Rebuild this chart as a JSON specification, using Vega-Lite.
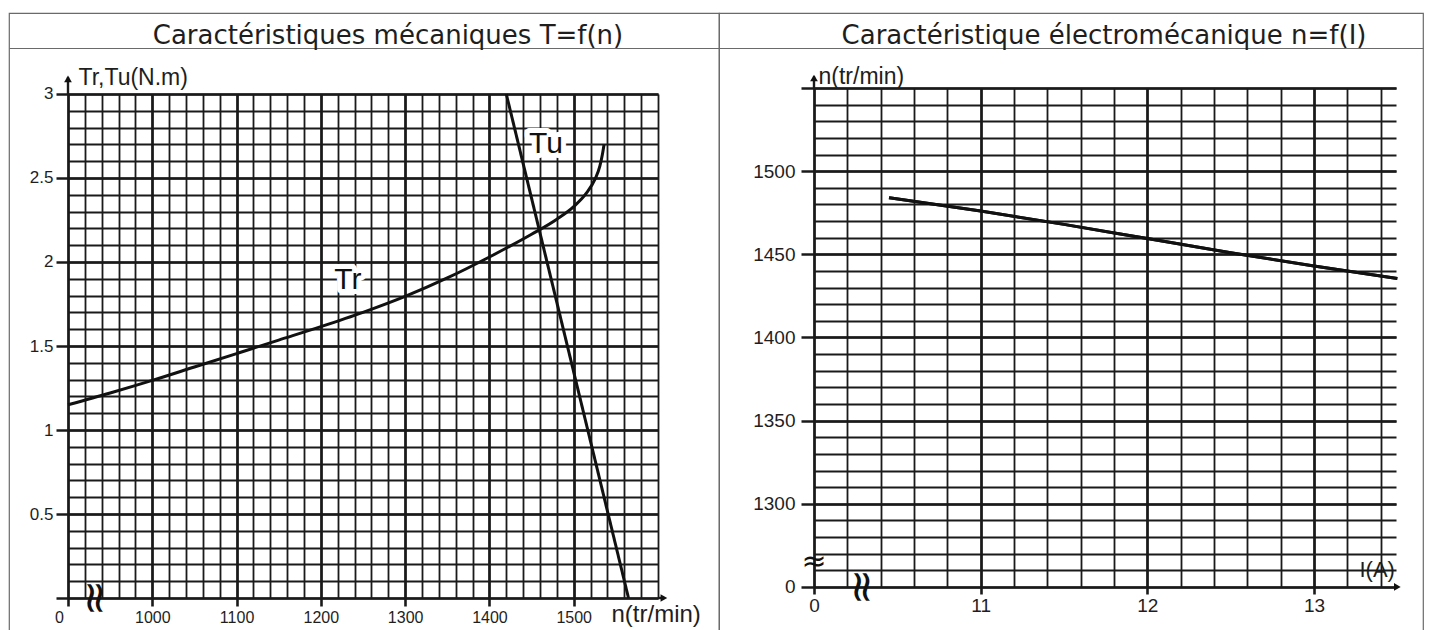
{
  "$schema": "https://vega.github.io/schema/vega-lite/v6.json",
  "background": "white",
  "padding": {"left": 8, "top": 12, "right": 0, "bottom": 0},
  "autosize": {"type": "pad"},
  "bounds": "flush",
  "spacing": 0,
  "config": {
    "view": {"stroke": "#6a6a6a", "strokeWidth": 1.2},
    "font": "Liberation Sans",
    "axis": {"labelColor": "#1e1e1e", "titleColor": "#1e1e1e", "labelFont": "Liberation Sans", "titleFont": "Liberation Sans", "titleFontWeight": "normal"}
  },
  "datasets": {
    "tr": [
      {"n": 900, "T": 1.15}, {"n": 950, "T": 1.22}, {"n": 1000, "T": 1.295}, {"n": 1050, "T": 1.375},
      {"n": 1100, "T": 1.455}, {"n": 1150, "T": 1.535}, {"n": 1200, "T": 1.615}, {"n": 1250, "T": 1.70},
      {"n": 1300, "T": 1.795}, {"n": 1350, "T": 1.905}, {"n": 1400, "T": 2.03}, {"n": 1450, "T": 2.165},
      {"n": 1480, "T": 2.255}, {"n": 1500, "T": 2.33}, {"n": 1515, "T": 2.41}, {"n": 1525, "T": 2.49},
      {"n": 1531, "T": 2.57}, {"n": 1534, "T": 2.64}, {"n": 1536, "T": 2.70}
    ],
    "tu": [{"n": 1420, "T": 3}, {"n": 1565, "T": 0}],
    "lblL": [{"n": 1232, "T": 1.89, "txt": "Tr"}, {"n": 1467, "T": 2.70, "txt": "Tu"}],
    "ruleL": [{"n": 900, "n2": 900, "T": 3, "T2": 3.1}, {"n": 1600, "n2": 1607, "T": 0, "T2": 0}],
    "headL": [{"n": 900, "T": 3.09, "dir": "up"}, {"n": 1607, "T": 0, "dir": "right"}],
    "brkL": [{"n": 931, "T": 0, "sym": "≈"}],
    "nI": [
      {"I": 10.45, "n": 1484}, {"I": 11, "n": 1476}, {"I": 11.5, "n": 1468}, {"I": 12, "n": 1459.5},
      {"I": 12.5, "n": 1451}, {"I": 13, "n": 1443}, {"I": 13.5, "n": 1435.5}
    ],
    "ruleR": [{"I": 10, "I2": 10, "n": 1550, "n2": 1557}],
    "headR": [{"I": 10, "n": 1556, "dir": "up"}, {"I": 13.5, "n": 1250, "dir": "right"}],
    "brkRx": [{"I": 10.28, "n": 1250, "sym": "≈"}],
    "brkRy": [{"I": 10, "n": 1265, "sym": "≈"}]
  },
  "hconcat": [
    {
      "width": 710,
      "height": 620,
      "title": {"text": "Caractéristiques mécaniques T=f(n)", "frame": "group", "anchor": "middle", "offset": -49, "baseline": "middle", "dx": 24, "font": "DejaVu Sans", "fontSize": 26, "fontWeight": "normal", "color": "#1e1e1e"},
      "resolve": {"axis": {"x": "independent", "y": "independent"}},
      "layer": [
        {
          "data": {"name": "tr"},
          "mark": {"type": "line", "color": "#111111", "strokeWidth": 3, "interpolate": "monotone"},
          "encoding": {
            "x": {"field": "n", "type": "quantitative", "scale": {"domain": [830, 1672.37], "nice": false, "zero": false},
              "axis": {"orient": "bottom", "offset": -35, "values": [900,920,940,960,980,1000,1020,1040,1060,1080,1100,1120,1140,1160,1180,1200,1220,1240,1260,1280,1300,1320,1340,1360,1380,1400,1420,1440,1460,1480,1500,1520,1540,1560,1580,1600], "tickSize": -504, "tickWidth": 1.8, "tickColor": "#1a1a1a", "labels": false, "domain": false, "grid": false, "title": null}},
            "y": {"field": "T", "type": "quantitative", "scale": {"domain": [-0.20833, 3.48214], "nice": false, "zero": false},
              "axis": {"orient": "left", "offset": -59, "values": [0,0.1,0.2,0.3,0.4,0.5,0.6,0.7,0.8,0.9,1,1.1,1.2,1.3,1.4,1.5,1.6,1.7,1.8,1.9,2,2.1,2.2,2.3,2.4,2.5,2.6,2.7,2.8,2.9,3], "tickSize": -590, "tickWidth": 1.8, "tickColor": "#1a1a1a", "labels": false, "domain": false, "grid": false, "title": null}}
          }
        },
        {
          "data": {"name": "tu"},
          "mark": {"type": "line", "color": "#111111", "strokeWidth": 3},
          "encoding": {
            "x": {"field": "n", "type": "quantitative", "scale": {"domain": [830, 1672.37], "nice": false, "zero": false},
              "axis": {"orient": "bottom", "offset": -27, "values": [900,1000,1100,1200,1300,1400,1500], "tickSize": -512, "tickWidth": 2.6, "tickColor": "#1a1a1a", "labels": false, "domain": false, "grid": false, "title": null}},
            "y": {"field": "T", "type": "quantitative", "scale": {"domain": [-0.20833, 3.48214], "nice": false, "zero": false},
              "axis": {"orient": "left", "offset": -47, "values": [0,0.5,1,1.5,2,2.5,3], "tickSize": -602, "tickWidth": 2.6, "tickColor": "#1a1a1a", "labels": false, "domain": false, "grid": false, "title": null}}
          }
        },
        {
          "data": {"name": "lblL"},
          "mark": {"type": "text", "font": "Liberation Sans", "fontSize": 30, "stroke": "white", "strokeWidth": 10, "strokeJoin": "round", "fill": "white", "align": "center", "baseline": "middle"},
          "encoding": {
            "x": {"field": "n", "type": "quantitative", "scale": {"domain": [830, 1672.37], "nice": false, "zero": false},
              "axis": {"orient": "bottom", "offset": -27, "values": [900,1000,1100,1200,1300,1400,1500], "ticks": false, "domain": false, "grid": false, "labelExpr": "datum.value == 900 ? '0' : format(datum.value, 'd')", "labelOffset": {"condition": {"test": "datum.value == 900", "value": -9}, "value": 0}, "labelPadding": 3, "labelFontSize": 16,
                "title": "n(tr/min)", "titleX": 602, "titleY": 8, "titleAlign": "left", "titleBaseline": "middle", "titleAngle": 0, "titleFontSize": 24}},
            "y": {"field": "T", "type": "quantitative", "scale": {"domain": [-0.20833, 3.48214], "nice": false, "zero": false},
              "axis": {"orient": "left", "offset": -47, "values": [0.5,1,1.5,2,2.5,3], "ticks": false, "domain": false, "grid": false, "labelExpr": "format(datum.value, '~g')", "labelPadding": 3, "labelFontSize": 17,
                "title": "Tr,Tu(N.m)", "titleX": 22, "titleY": 64, "titleAlign": "left", "titleBaseline": "middle", "titleAngle": 0, "titleFontSize": 23}},
            "text": {"field": "txt", "type": "nominal"}
          }
        },
        {
          "data": {"name": "lblL"},
          "mark": {"type": "text", "font": "Liberation Sans", "fontSize": 30, "fill": "#111111", "align": "center", "baseline": "middle"},
          "encoding": {
            "x": {"field": "n", "type": "quantitative", "scale": {"domain": [830, 1672.37], "nice": false, "zero": false},
              "axis": {"orient": "top", "offset": -35, "domain": true, "domainColor": "#6a6a6a", "domainWidth": 1.2, "ticks": false, "labels": false, "grid": false, "title": null}},
            "y": {"field": "T", "type": "quantitative", "scale": {"domain": [-0.20833, 3.48214], "nice": false, "zero": false}, "axis": null},
            "text": {"field": "txt", "type": "nominal"}
          }
        },
        {
          "data": {"name": "ruleL"},
          "mark": {"type": "rule", "color": "#1a1a1a", "strokeWidth": 2.4},
          "encoding": {
            "x": {"field": "n", "type": "quantitative", "scale": {"domain": [830, 1672.37], "nice": false, "zero": false}, "axis": null},
            "x2": {"field": "n2"},
            "y": {"field": "T", "type": "quantitative", "scale": {"domain": [-0.20833, 3.48214], "nice": false, "zero": false}, "axis": null},
            "y2": {"field": "T2"}
          }
        },
        {
          "data": {"name": "headL"},
          "mark": {"type": "point", "filled": true, "color": "#111111", "size": 60, "opacity": 1},
          "encoding": {
            "x": {"field": "n", "type": "quantitative", "scale": {"domain": [830, 1672.37], "nice": false, "zero": false}, "axis": null},
            "y": {"field": "T", "type": "quantitative", "scale": {"domain": [-0.20833, 3.48214], "nice": false, "zero": false}, "axis": null},
            "shape": {"field": "dir", "type": "nominal", "scale": {"domain": ["up", "right"], "range": ["triangle-up", "triangle-right"]}, "legend": null}
          }
        },
        {
          "data": {"name": "brkL"},
          "mark": {"type": "text", "font": "DejaVu Sans", "fontSize": 44, "angle": 90, "fill": "#111111", "align": "center", "baseline": "middle"},
          "encoding": {
            "x": {"field": "n", "type": "quantitative", "scale": {"domain": [830, 1672.37], "nice": false, "zero": false}, "axis": null},
            "y": {"field": "T", "type": "quantitative", "scale": {"domain": [-0.20833, 3.48214], "nice": false, "zero": false}, "axis": null},
            "text": {"field": "sym", "type": "nominal"}
          }
        }
      ]
    },
    {
      "width": 704,
      "height": 620,
      "title": {"text": "Caractéristique électromécanique n=f(I)", "frame": "group", "anchor": "middle", "offset": -49, "baseline": "middle", "dx": 33, "font": "DejaVu Sans", "fontSize": 26, "fontWeight": "normal", "color": "#1e1e1e"},
      "resolve": {"axis": {"x": "independent", "y": "independent"}},
      "layer": [
        {
          "data": {"name": "nI"},
          "mark": {"type": "line", "color": "#111111", "strokeWidth": 3, "interpolate": "monotone"},
          "encoding": {
            "x": {"field": "I", "type": "quantitative", "scale": {"domain": [9.43, 13.654], "nice": false, "zero": false},
              "axis": {"orient": "bottom", "offset": -46, "values": [10,10.2,10.4,10.6,10.8,11,11.2,11.4,11.6,11.8,12,12.2,12.4,12.6,12.8,13,13.2,13.4], "tickSize": -499, "tickWidth": 1.8, "tickColor": "#1a1a1a", "labels": false, "domain": false, "grid": false, "title": null}},
            "y": {"field": "n", "type": "quantitative", "scale": {"domain": [1222.34, 1595.09], "nice": false, "zero": false},
              "axis": {"orient": "left", "offset": -95, "values": [1250,1260,1270,1280,1290,1300,1310,1320,1330,1340,1350,1360,1370,1380,1390,1400,1410,1420,1430,1440,1450,1460,1470,1480,1490,1500,1510,1520,1530,1540,1550], "tickSize": -582, "tickWidth": 1.8, "tickColor": "#1a1a1a", "labels": false, "domain": false, "grid": false, "title": null}}
          }
        },
        {
          "data": {"name": "nI"},
          "mark": {"type": "line", "color": "#111111", "strokeWidth": 3, "interpolate": "monotone"},
          "encoding": {
            "x": {"field": "I", "type": "quantitative", "scale": {"domain": [9.43, 13.654], "nice": false, "zero": false},
              "axis": {"orient": "bottom", "offset": -39, "values": [10,11,12,13], "tickSize": -506, "tickWidth": 2.6, "tickColor": "#1a1a1a", "labels": false, "domain": false, "grid": false, "title": null}},
            "y": {"field": "n", "type": "quantitative", "scale": {"domain": [1222.34, 1595.09], "nice": false, "zero": false},
              "axis": {"orient": "left", "offset": -82, "values": [1250,1300,1350,1400,1450,1500,1550], "tickSize": -595, "tickWidth": 2.6, "tickColor": "#1a1a1a", "labels": false, "domain": false, "grid": false, "title": null}}
          }
        },
        {
          "data": {"name": "brkRy"},
          "mark": {"type": "text", "font": "DejaVu Sans", "fontSize": 30, "fill": "#111111", "align": "center", "baseline": "middle"},
          "encoding": {
            "x": {"field": "I", "type": "quantitative", "scale": {"domain": [9.43, 13.654], "nice": false, "zero": false},
              "axis": {"orient": "bottom", "offset": -39, "values": [10,11,12,13], "ticks": false, "domain": false, "grid": false, "labelExpr": "datum.value == 10 ? '0' : format(datum.value, 'd')", "labelPadding": 2, "labelFontSize": 19,
                "title": "I(A)", "titleX": 640, "titleY": -25, "titleAlign": "left", "titleBaseline": "middle", "titleAngle": 0, "titleFontSize": 22}},
            "y": {"field": "n", "type": "quantitative", "scale": {"domain": [1222.34, 1595.09], "nice": false, "zero": false},
              "axis": {"orient": "left", "offset": -82, "values": [1250,1300,1350,1400,1450,1500], "ticks": false, "domain": false, "grid": false, "labelExpr": "datum.value == 1250 ? '0' : format(datum.value, 'd')", "labelPadding": 6, "labelFontSize": 19,
                "title": "n(tr/min)", "titleX": 17, "titleY": 63, "titleAlign": "left", "titleBaseline": "middle", "titleAngle": 0, "titleFontSize": 23}},
            "text": {"field": "sym", "type": "nominal"}
          }
        },
        {
          "data": {"name": "brkRx"},
          "mark": {"type": "text", "font": "DejaVu Sans", "fontSize": 44, "angle": 90, "fill": "#111111", "align": "center", "baseline": "middle"},
          "encoding": {
            "x": {"field": "I", "type": "quantitative", "scale": {"domain": [9.43, 13.654], "nice": false, "zero": false},
              "axis": {"orient": "top", "offset": -35, "domain": true, "domainColor": "#6a6a6a", "domainWidth": 1.2, "ticks": false, "labels": false, "grid": false, "title": null}},
            "y": {"field": "n", "type": "quantitative", "scale": {"domain": [1222.34, 1595.09], "nice": false, "zero": false}, "axis": null},
            "text": {"field": "sym", "type": "nominal"}
          }
        },
        {
          "data": {"name": "ruleR"},
          "mark": {"type": "rule", "color": "#1a1a1a", "strokeWidth": 2.4},
          "encoding": {
            "x": {"field": "I", "type": "quantitative", "scale": {"domain": [9.43, 13.654], "nice": false, "zero": false}, "axis": null},
            "x2": {"field": "I2"},
            "y": {"field": "n", "type": "quantitative", "scale": {"domain": [1222.34, 1595.09], "nice": false, "zero": false}, "axis": null},
            "y2": {"field": "n2"}
          }
        },
        {
          "data": {"name": "headR"},
          "mark": {"type": "point", "filled": true, "color": "#111111", "size": 60, "opacity": 1},
          "encoding": {
            "x": {"field": "I", "type": "quantitative", "scale": {"domain": [9.43, 13.654], "nice": false, "zero": false}, "axis": null},
            "y": {"field": "n", "type": "quantitative", "scale": {"domain": [1222.34, 1595.09], "nice": false, "zero": false}, "axis": null},
            "shape": {"field": "dir", "type": "nominal", "scale": {"domain": ["up", "right"], "range": ["triangle-up", "triangle-right"]}, "legend": null}
          }
        }
      ]
    }
  ]
}
